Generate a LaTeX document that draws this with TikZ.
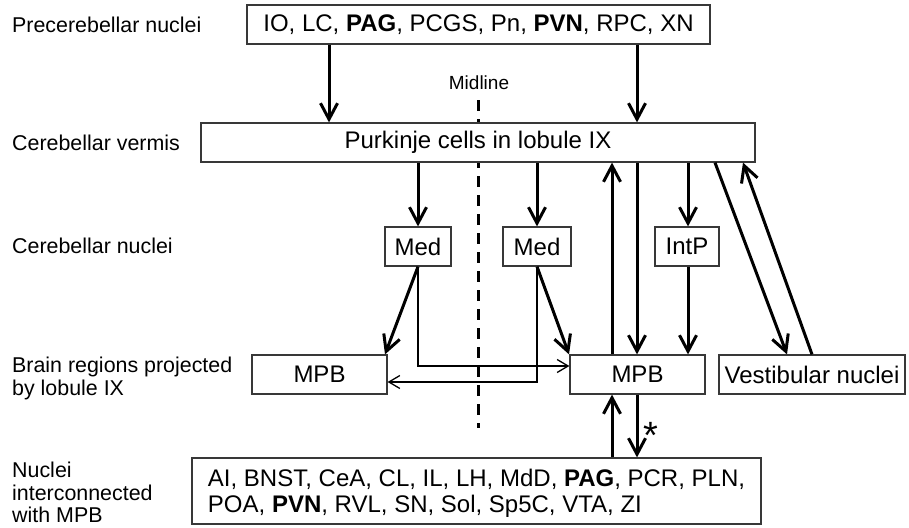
\documentclass[tikz,border=0pt]{standalone}
\usepackage{fontspec}
\setmainfont{Liberation Sans}
\usetikzlibrary{arrows.meta}
\begin{document}
\begin{tikzpicture}[x=1pt,y=-1pt,
  box/.style={draw=black!78, line width=1.2pt, fill=white, inner sep=0pt,
    minimum height=39pt, font=\fontsize{24}{28}\selectfont},
  lab/.style={inner sep=0pt, font=\fontsize{21.4}{23}\selectfont, align=left},
  thk/.style={line width=3pt, -{Straight Barb[length=16pt,width=17pt]}},
  thn/.style={line width=1.3pt, -{Straight Barb[length=11pt,width=13pt]}},
  midl/.style={line width=3pt, dash pattern=on 11pt off 8pt}
]
\useasboundingbox (0,0) rectangle (909,527);

% midline
\coordinate (m1) at (478,100);
\coordinate (m2) at (478,428);
\draw[midl] (m1) -- (m2);
\node[inner sep=0pt, font=\fontsize{19}{22}\selectfont] (midlab) at (479,83) {Midline};

% boxes
\node[box, minimum width=463pt] (top) at (478.5,24.5) {IO, LC, \textbf{PAG}, PCGS, Pn, \textbf{PVN}, RPC, XN};
\node[box, minimum width=554pt] (purk) at (478,142.5) {Purkinje cells in lobule IX};
\node[box, minimum width=66pt] (med1) at (418,246.5) {Med};
\node[box, minimum width=68pt] (med2) at (537,246.5) {Med};
\node[box, minimum width=64pt] (intp) at (687,246.5) {IntP};
\node[box, minimum width=135pt] (mpbL) at (319.5,374.5) {MPB};
\node[box, minimum width=135pt] (mpbC) at (637.5,374.5) {MPB};
\node[box, minimum width=186pt] (vest) at (812,374.5) {Vestibular nuclei};
\node[box, minimum width=569pt, minimum height=66pt, align=left, font=\fontsize{24}{26}\selectfont] (bot) at (476.5,491)
  {\rule{0pt}{21pt}AI, BNST, CeA, CL, IL, LH, MdD, \textbf{PAG}, PCR, PLN,\\POA, \textbf{PVN}, RVL, SN, Sol, Sp5C, VTA, ZI};

% left labels
\node[lab, anchor=west] (l1) at (12,25) {Precerebellar nuclei};
\node[lab, anchor=west] (l2) at (12,143) {Cerebellar vermis};
\node[lab, anchor=west] (l3) at (12,246) {Cerebellar nuclei};
\node[lab, anchor=north west] (l4) at (12,357) {Brain regions projected\\by lobule IX};
\node[lab, anchor=north west, font=\fontsize{21.4}{22.5}\selectfont] (l5) at (12,462) {Nuclei\\interconnected\\with MPB};

% arrows
\draw[thk] (329,0 |- top.south) -- (329,0 |- purk.north);
\draw[thk] (637,0 |- top.south) -- (637,0 |- purk.north);

\draw[thk] (med1.north |- purk.south) -- (med1.north);
\draw[thk] (med2.north |- purk.south) -- (med2.north);
\draw[thk] (688,0 |- purk.south) -- (688,0 |- intp.north);
\draw[thk] (688,0 |- intp.south) -- (688,0 |- mpbC.north);

\draw[thk] (612,0 |- mpbC.north) -- (612,0 |- purk.south);
\draw[thk] (637,0 |- purk.south) -- (637,0 |- mpbC.north);

\draw[thk] (715,0 |- purk.south) -- (787,0 |- vest.north);
\draw[thk] (812,0 |- vest.north) -- (743,0 |- purk.south);

\draw[thk] (med1.south) -- (385,0 |- mpbL.north);
\draw[thk] (med2.south) -- (569,0 |- mpbC.north);
\draw[thn] (med1.south) |- (mpbC.west |- 0,366);
\draw[thn] (med2.south) |- (mpbL.east |- 0,382);

\draw[thk] (612,0 |- bot.north) -- (612,0 |- mpbC.south);
\draw[thk] (637,0 |- mpbC.south) -- (637,0 |- bot.north);
\node[inner sep=0pt, anchor=base, font=\fontsize{38}{40}\selectfont] (ast) at (651,448) {*};
\end{tikzpicture}
\end{document}
